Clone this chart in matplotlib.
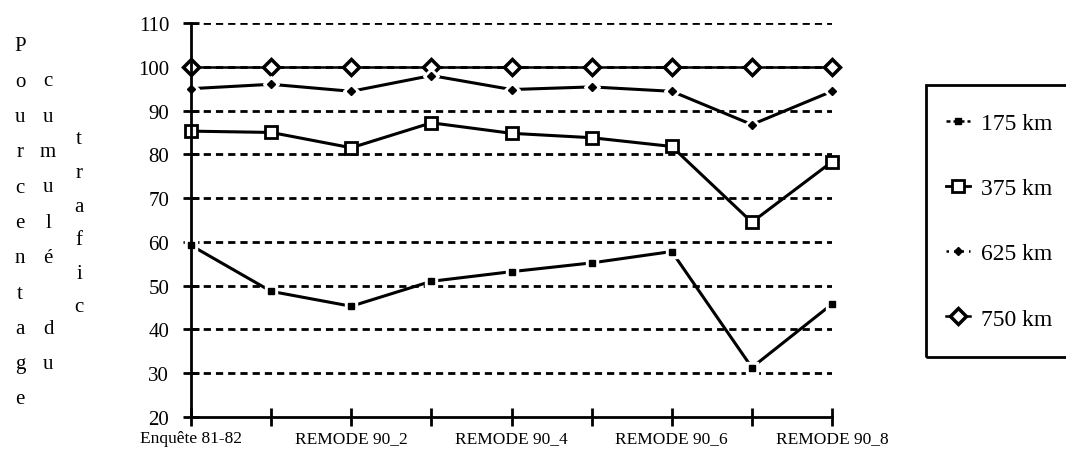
import matplotlib
matplotlib.use("Agg")
import matplotlib.pyplot as plt
from matplotlib.lines import Line2D
from matplotlib.patches import Rectangle

plt.rcParams["font.family"] = ["Liberation Serif", "DejaVu Serif"]

# data
categories = ["Enquête 81-82", "REMODE 90_1", "REMODE 90_2", "REMODE 90_3",
              "REMODE 90_4", "REMODE 90_5", "REMODE 90_6", "REMODE 90_7",
              "REMODE 90_8"]
km175 = [59.2, 48.7, 45.3, 51.0, 53.2, 55.2, 57.8, 31.3, 45.8]
km375 = [85.3, 85.0, 81.5, 87.2, 84.8, 83.8, 81.8, 64.5, 78.3]
km625 = [95.0, 96.0, 94.4, 98.0, 94.8, 95.4, 94.4, 86.8, 94.4]
km750 = [100, 100, 100, 100, 100, 100, 100, 100, 100]
y_ticks = [20, 30, 40, 50, 60, 70, 80, 90, 100, 110]

W, H = 1066, 464
fig = plt.figure(figsize=(W / 100, H / 100), dpi=100)
ax = fig.add_axes([191 / W, 1 - 418 / H, (832 - 191) / W, (418 - 24) / H])

x = list(range(len(categories)))

# dashed grid
for v in y_ticks[1:]:
    ax.axhline(v, color="black", lw=2.0, ls=(0, (2.6, 1.8)), zorder=1)

# 175 km
ax.plot(x, km175, color="black", lw=2.2, zorder=3, clip_on=False)
ax.plot(x, km175, ls="none", marker="s", ms=8.5, mfc="white", mec="white", zorder=4, clip_on=False)
ax.plot(x, km175, ls="none", marker="s", ms=5, mfc="black", mec="black", zorder=5, clip_on=False)

# 375 km
ax.plot(x, km375, color="black", lw=2.2, marker="s", ms=9, mfc="white", mec="black",
        mew=2.0, zorder=3, clip_on=False)

# 625 km
ax.plot(x, km625, color="black", lw=2.2, zorder=3, clip_on=False)
ax.plot(x, km625, ls="none", marker="D", ms=8, mfc="white", mec="white", zorder=4, clip_on=False)
ax.plot(x, km625, ls="none", marker="D", ms=4, mfc="black", mec="black", zorder=5, clip_on=False)

# 750 km
ax.plot(x, km750, color="black", lw=1.8, marker="D", ms=8.5, mfc="white", mec="black",
        mew=2.5, zorder=3, clip_on=False)

ax.set_xlim(0, 8)
ax.set_ylim(20, 110)
ax.set_yticks(y_ticks)
ax.set_xticks(x)
ax.set_xticklabels([c if i % 2 == 0 else "" for i, c in enumerate(categories)])

for s in ["top", "right"]:
    ax.spines[s].set_visible(False)
for s in ["left", "bottom"]:
    ax.spines[s].set_linewidth(2.0)
    ax.spines[s].set_zorder(6)

ax.tick_params(axis="y", direction="inout", length=11.5, width=2.0, labelsize=15, pad=10)
ax.tick_params(axis="x", direction="inout", length=13, width=2.0, labelsize=12.5, pad=3)

# vertical stacked y label
col1 = "Pourcentage"
col2 = "cumulé du"
col3 = "trafic"
for i, ch in enumerate(col1):
    fig.text(20 / W, 1 - (47 + 35.3 * i) / H, ch, ha="center", va="center", fontsize=15)
for i, ch in enumerate(col2):
    if ch != " ":
        fig.text(48 / W, 1 - (82 + 35.3 * i) / H, ch, ha="center", va="center", fontsize=15)
for i, ch in enumerate(col3):
    fig.text(79 / W, 1 - (140 + 33.6 * i) / H, ch, ha="center", va="center", fontsize=15)

# legend box running off the right edge
fig.patches.append(Rectangle((926 / W, 1 - 358 / H), 200 / W, (358 - 86) / H,
                             transform=fig.transFigure, fill=False, ec="black", lw=2.0))

handles = [
    Line2D([], [], color="black", lw=1.8, ls=(0, (1.6, 1.2)), marker="s", ms=5),
    Line2D([], [], color="black", lw=2.0, marker="s", ms=9, mfc="white", mew=2.0),
    Line2D([], [], color="black", lw=1.8, ls=(0, (1, 2)), marker="D", ms=4),
    Line2D([], [], color="black", lw=1.8, marker="D", ms=8.5, mfc="white", mew=2.5),
]
labels = ["175 km", "375 km", "625 km", "750 km"]
fig.legend(handles, labels, loc="center left", bbox_to_anchor=(946 / W, 1 - 222 / H),
           frameon=False, fontsize=17, handlelength=1.0, handletextpad=0.5,
           labelspacing=1.85, borderaxespad=0, borderpad=0)

fig.savefig("out.png", dpi=100)
